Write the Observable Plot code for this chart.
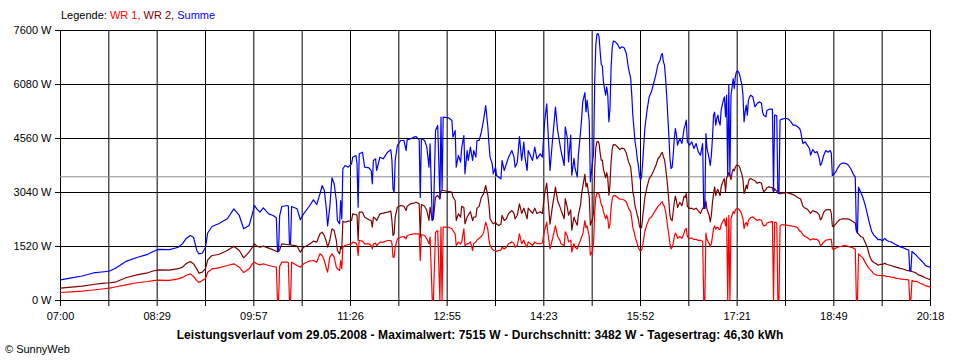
<!DOCTYPE html>
<html><head><meta charset="utf-8">
<script src="https://cdn.jsdelivr.net/npm/d3@7"></script>
<script src="https://cdn.jsdelivr.net/npm/@observablehq/plot@0.6"></script>
<style>
body{margin:0;background:#fff;}
#wrap{position:relative;width:960px;height:360px;font-family:"Liberation Sans",Arial,sans-serif;color:#000;}
#wrap svg{position:absolute;left:0;top:0;}
.legend{position:absolute;left:61px;top:9px;font-size:11px;white-space:pre;}
.caption{position:absolute;left:0;width:960px;top:328px;text-align:center;font-weight:bold;font-size:12px;letter-spacing:0.1px;}
.copy{position:absolute;left:5px;top:343px;font-size:11px;}
</style></head>
<body><div id="wrap"></div>
<script>
// Sample times (29.05.2008)
const times = ["07:00","07:10","07:20","07:30","07:40","07:45","07:50","08:00","08:10","08:20","08:25","08:30","08:40","08:48","08:52","08:55","08:59","09:02","09:05","09:07","09:10","09:13","09:15","09:19","09:25","09:33","09:39","09:44","09:48","09:53","09:56","09:58","10:00","10:03","10:06","10:11","10:15","10:18","10:19","10:20","10:21","10:23","10:28","10:29","10:30","10:31","10:32","10:37","10:40","10:43","10:48","10:52","10:55","10:58","11:00","11:02","11:04","11:05","11:07","11:09","11:11","11:13","11:14","11:16","11:17","11:18","11:19","11:21","11:24","11:27","11:28","11:31","11:32","11:33","11:34","11:37","11:39","11:43","11:45","11:46","11:47","11:49","11:50","11:53","11:56","12:00","12:03","12:04","12:05","12:06","12:07","12:09","12:12","12:15","12:17","12:18","12:21","12:24","12:26","12:29","12:30","12:31","12:34","12:36","12:38","12:39","12:41","12:42","12:44","12:46","12:48","12:49","12:50","12:51","12:56","12:59","13:00","13:02","13:03","13:05","13:07","13:08","13:10","13:11","13:13","13:14","13:16","13:18","13:19","13:21","13:22","13:24","13:26","13:28","13:30","13:32","13:33","13:34","13:36","13:37","13:39","13:40","13:42","13:44","13:45","13:47","13:49","13:51","13:54","13:56","13:57","13:59","14:01","14:03","14:05","14:06","14:08","14:09","14:13","14:15","14:17","14:20","14:22","14:24","14:26","14:27","14:29","14:31","14:34","14:36","14:38","14:39","14:42","14:43","14:45","14:46","14:48","14:49","14:51","14:52","14:54","14:55","14:57","14:58","14:59","15:01","15:02","15:03","15:05","15:06","15:08","15:09","15:10","15:11","15:12","15:13","15:14","15:15","15:16","15:17","15:18","15:20","15:21","15:22","15:23","15:24","15:25","15:26","15:27","15:29","15:31","15:33","15:35","15:37","15:39","15:41","15:42","15:43","15:44","15:45","15:46","15:47","15:48","15:49","15:50","15:51","15:52","15:53","15:54","15:55","15:56","15:58","16:00","16:02","16:04","16:06","16:08","16:10","16:11","16:12","16:13","16:14","16:15","16:16","16:17","16:18","16:19","16:20","16:21","16:22","16:23","16:24","16:25","16:26","16:28","16:30","16:32","16:33","16:34","16:35","16:37","16:39","16:41","16:43","16:45","16:47","16:49","16:50","16:51","16:52","16:53","16:55","16:56","16:57","16:58","16:59","17:00","17:01","17:02","17:03","17:04","17:05","17:06","17:08","17:09","17:10","17:11","17:12","17:13","17:14","17:15","17:16","17:17","17:18","17:19","17:20","17:21","17:22","17:23","17:24","17:25","17:26","17:27","17:28","17:29","17:30","17:31","17:32","17:33","17:35","17:37","17:39","17:41","17:43","17:44","17:45","17:47","17:48","17:50","17:52","17:53","17:54","17:55","17:56","17:57","17:58","17:59","18:00","18:02","18:04","18:06","18:08","18:10","18:12","18:14","18:16","18:18","18:19","18:20","18:21","18:23","18:25","18:27","18:28","18:30","18:32","18:34","18:36","18:37","18:38","18:40","18:42","18:44","18:46","18:47","18:48","18:49","18:51","18:53","18:55","18:57","18:59","19:01","19:03","19:05","19:07","19:09","19:10","19:11","19:12","19:14","19:16","19:18","19:20","19:22","19:24","19:26","19:28","19:30","19:32","19:34","19:36","19:38","19:40","19:42","19:44","19:46","19:48","19:50","19:52","19:54","19:56","19:58","19:59","20:00","20:01","20:03","20:05","20:07","20:09","20:11","20:13","20:15","20:18"];

// WR 1 (W)
const wr1 = [225,245,265,295,330,350,380,440,500,535,560,572,565,610,650,704,750,676,560,507,563,620,797,891,920,985,1033,938,788,891,1033,1079,1033,1004,1033,985,957,938,0,0,960,1079,1079,1070,0,0,1079,985,938,1033,1107,1126,1079,1314,1267,1126,891,797,1219,1314,1219,938,891,845,1126,900,1500,1548,1576,1595,1642,1614,1548,1267,1689,1670,1595,1595,1548,1455,1595,1614,1548,1642,1642,1689,1689,1614,1219,1219,1500,1736,1782,1801,1736,1830,1858,1877,1877,1877,1126,1858,1830,1736,1595,1782,0,0,1924,1970,0,2063,0,2063,2063,2018,1970,1877,1548,1642,1595,1642,2018,1548,1600,1595,1650,1407,1600,1650,1700,1750,1800,1900,2204,2000,1700,1550,1450,1420,1407,1380,1407,1420,1500,1450,1500,1600,1650,1600,1500,1550,1877,1600,1700,1600,1500,1650,1550,1650,1600,1600,1620,1970,2204,1900,1455,1700,2100,1800,1700,1600,1550,1934,1800,1650,1700,1370,1600,1500,1450,1550,1700,1800,1850,2250,2050,2100,1800,1276,1400,1650,2500,2900,3012,3020,3000,2850,2700,2650,2500,2300,2400,2300,2027,2150,2600,2850,2950,2950,2900,2850,2850,2830,2780,2600,2550,2500,2300,2050,1950,1800,1700,1600,1500,1420,1400,1420,1550,1750,1950,2150,2300,2350,2450,2550,2650,2700,2760,2780,2680,2650,2500,2300,2050,1850,1600,1450,1500,1600,1800,1900,1850,1750,1800,1750,1900,2000,2027,1800,1745,1760,1720,1720,1690,1690,1670,0,0,1900,1720,1600,1512,1600,1800,2027,2100,2000,2050,2060,2000,2000,2130,2250,2300,2100,2330,0,2400,0,2300,2400,2500,2450,2542,2590,2590,2570,2540,2500,2400,2300,2027,2150,2200,2100,2250,2300,2330,2355,2300,2250,2280,2260,2150,2100,2120,2180,2200,2220,2220,0,2200,2200,2180,0,0,2100,2140,2120,2120,2110,2100,2090,2080,2050,1952,1952,1900,1850,1800,1770,1726,1700,1736,1720,1720,1650,1548,1560,1640,1700,1710,1720,1720,1455,1440,1470,1500,1520,1530,1548,1540,1520,1500,1480,1450,0,0,1314,1250,1200,1079,976,891,826,751,723,704,704,700,695,676,676,657,650,629,620,610,600,591,585,580,0,0,563,544,540,507,479,460,420,404,375];

// WR 2 (W)
const wr2 = [347,375,405,450,490,500,515,640,720,780,830,862,855,895,940,1033,1098,1033,891,769,797,900,1145,1267,1295,1407,1529,1407,1201,1360,1500,1595,1529,1500,1529,1473,1426,1379,1379,1380,1420,1595,1576,1570,1576,1570,1560,1529,1360,1500,1576,1670,1642,1877,1924,1830,1642,1500,1689,2018,1970,1689,1407,1314,1500,1450,2233,2204,2233,2252,2440,2420,2393,1689,2486,2486,2346,2271,2252,2063,2346,2300,2252,2440,2458,2486,2514,2252,1830,1877,2346,2627,2674,2655,2533,2655,2721,2739,2767,2721,1780,2702,2655,2533,2252,2627,2252,2300,2908,2956,2862,3077,3096,3096,3068,3049,2908,2815,2252,2440,2346,2650,2620,2159,2350,2400,2500,2250,2350,2350,2600,2650,2900,3000,3237,2950,2700,2300,2200,2159,2200,2150,2111,2150,2400,2250,2300,2450,2533,2450,2300,2400,2721,2450,2600,2500,2300,2600,2450,2600,2450,2500,2450,3003,3303,2900,2150,2600,3190,2800,2650,2550,2300,2870,2600,2400,2550,1980,2350,2250,2120,2400,2700,3000,3200,3550,3200,3300,2900,2120,2300,2500,3700,4300,4466,4480,4420,4150,3950,3950,3700,3450,3600,3450,2964,3250,3900,4250,4390,4380,4320,4250,4290,4270,4150,3900,3840,3750,3450,3050,2900,2650,2550,2400,2300,2100,2027,2060,2350,2620,2900,3200,3430,3520,3650,3790,3990,4060,4140,4170,4040,3970,3750,3480,3170,2800,2400,2270,2250,2490,2760,2940,2800,2620,2760,2670,2940,2900,3012,2650,2590,2600,2560,2600,2520,2450,2600,2590,2590,2800,2560,2400,2214,2400,2760,3012,3200,2950,3070,3130,3030,2950,3200,3380,3430,3070,3450,3500,3600,3520,3400,3600,3700,3650,3750,3809,3800,3800,3750,3650,3550,3400,3012,3100,3250,3150,3350,3420,3434,3400,3370,3300,3330,3300,3150,3060,3120,3180,3200,3180,3180,3060,3150,3100,3080,3030,3012,3000,3020,3020,3040,3020,3000,2980,2950,2900,2871,2850,2750,2650,2600,2570,2496,2450,2533,2500,2480,2400,2271,2300,2480,2550,2560,2560,2450,2083,2083,2150,2230,2280,2300,2300,2300,2290,2260,2220,2180,1970,1900,1877,1800,1780,1642,1500,1267,1126,1070,1040,990,1020,1010,1051,1013,1000,985,960,940,925,905,895,873,850,840,835,830,816,797,770,720,700,672,640,619,582];

// Summe (W)
const summe = [583,635,690,775,810,830,900,1100,1210,1300,1380,1440,1430,1500,1600,1736,1830,1782,1407,1314,1330,1500,1900,2083,2159,2300,2581,2393,2018,2111,2440,2674,2581,2486,2609,2440,2393,2328,1370,1380,2380,2646,2674,2660,1595,1590,2646,2581,2272,2440,2646,2834,2702,3003,3237,3096,2533,2100,2627,3453,3285,2815,2252,2159,2815,2300,3707,3800,3753,3847,4034,4082,3847,2627,4129,4175,3753,3735,3659,3285,3941,3988,3659,4034,3988,4175,4241,3941,3144,3049,3941,4363,4504,4504,4222,4523,4551,4597,4616,4523,2900,4551,4504,4316,3753,4410,2252,2300,4785,4926,2862,5160,3096,5160,5142,5067,4597,4785,3753,4082,3894,4300,4644,3566,4222,3941,4316,3941,4222,4034,4504,4504,4738,5067,5489,4879,4410,4034,3847,3566,3753,3518,3472,3425,3941,3659,3847,4034,4222,4034,3753,3894,4616,3941,4456,4034,3659,4222,3941,4316,3988,4129,4034,5020,5536,4879,3659,4410,5442,4785,4410,4222,3800,4889,4560,3903,4654,3528,4000,3716,3481,4091,4748,5123,5593,5850,5311,5640,5030,3341,3903,4150,6156,7187,7487,7515,7420,7000,6650,6600,6156,5780,6015,5780,5030,5404,6531,7093,7300,7282,7206,7093,7141,7113,6953,6531,6390,6249,5780,5200,4841,4466,4279,3997,3809,3528,3388,3481,3903,4372,4841,5357,5733,5874,6108,6342,6643,6765,6905,6953,6719,6624,6249,5780,5217,4654,3997,3716,3750,4091,4560,4841,4654,4372,4560,4419,4841,4935,5076,4466,4372,4466,4279,4419,4185,4091,4419,2590,2590,4700,4279,3997,3800,4091,4560,5217,5300,4935,5123,5217,5030,4935,5357,5640,5733,5170,5780,3500,6062,3520,5780,6000,6249,5967,6300,6437,6466,6430,6342,6201,6080,5780,5030,5311,5498,5217,5640,5720,5780,5733,5450,5545,5593,5550,5300,5217,5170,5350,5385,5385,5385,3060,5217,5217,5200,3030,3012,5080,5105,5123,5123,5100,5030,4935,4935,4889,4841,4750,4560,4419,4466,4372,4279,4091,4250,4160,4190,4000,3800,3850,4082,4222,4175,4222,4150,3518,3547,3612,3735,3828,3866,3866,3850,3800,3700,3566,3472,1970,1900,3190,3049,2900,2700,2440,2177,1950,1840,1780,1710,1720,1680,1750,1689,1660,1650,1610,1576,1548,1510,1495,1470,1440,1420,835,830,1380,1330,1270,1200,1140,1080,1000,960,938];

const yTicks = [0, 1520, 3040, 4560, 6080, 7600];
const yTickLabels = ["0 W", "1520 W", "3040 W", "4560 W", "6080 W", "7600 W"];
const xTickLabels = ["07:00","08:29","09:57","11:26","12:55","14:23","15:52","17:21","18:49","20:18"];
const average = 3482;
const seriesNames = ["WR 1", "WR 2", "Summe"];
const seriesColors = ["#ff0000", "#800000", "#0000ff"];
const captionText = "Leistungsverlauf vom 29.05.2008 - Maximalwert: 7515 W - Durchschnitt: 3482 W - Tagesertrag: 46,30 kWh";
const copyText = "© SunnyWeb";

const toDate = s => { const [h, m] = s.split(":").map(Number); return new Date(2008, 4, 29, h, m); };
const data = times.map((t, i) => ({time: toDate(t), wr1: wr1[i], wr2: wr2[i], summe: summe[i]}));

const start = toDate(xTickLabels[0]);
const end = toDate(xTickLabels[xTickLabels.length - 1]);
const divisions = (xTickLabels.length - 1) * 2;
const xGrid = d3.range(divisions + 1).map(i => new Date(+start + i * (end - start) / divisions));
const xLabel = d => { const i = xGrid.findIndex(v => +v === +d); return i % 2 === 0 ? xTickLabels[i / 2] : ""; };

const chart = Plot.plot({
  width: 960, height: 360,
  marginLeft: 60, marginRight: 30, marginTop: 30, marginBottom: 60,
  style: {fontFamily: '"Liberation Sans", Arial, sans-serif', fontSize: "11px", color: "#000", background: "transparent"},
  x: {type: "time", domain: [start, end], label: null},
  y: {domain: [0, 7600], label: null},
  marks: [
    Plot.gridY(yTicks, {stroke: "#000", strokeOpacity: 1, strokeWidth: 1}),
    Plot.gridX(xGrid, {stroke: "#000", strokeOpacity: 1, strokeWidth: 1}),
    Plot.ruleY([average], {stroke: "#8c8c8c", strokeWidth: 1}),
    Plot.axisY(yTicks, {tickFormat: d => yTickLabels[yTicks.indexOf(d)], tickSize: 5, tickPadding: 4, label: null, stroke: "#000"}),
    Plot.axisX(xGrid, {tickFormat: xLabel, tickSize: 6, tickPadding: 6, label: null, stroke: "#000"}),
    Plot.line(data, {x: "time", y: "wr1", stroke: seriesColors[0], strokeWidth: 1.2}),
    Plot.line(data, {x: "time", y: "wr2", stroke: seriesColors[1], strokeWidth: 1.2}),
    Plot.line(data, {x: "time", y: "summe", stroke: seriesColors[2], strokeWidth: 1.2})
  ]
});

const wrap = document.getElementById("wrap");
wrap.appendChild(chart);

const legend = document.createElement("div");
legend.className = "legend";
legend.appendChild(document.createTextNode("Legende: "));
seriesNames.forEach((n, i) => {
  const s = document.createElement("span");
  s.style.color = seriesColors[i];
  s.textContent = n + (i < seriesNames.length - 1 ? ", " : "");
  legend.appendChild(s);
});
wrap.appendChild(legend);

const cap = document.createElement("div");
cap.className = "caption";
cap.textContent = captionText;
wrap.appendChild(cap);

const cp = document.createElement("div");
cp.className = "copy";
cp.textContent = copyText;
wrap.appendChild(cp);
</script>
</body></html>
